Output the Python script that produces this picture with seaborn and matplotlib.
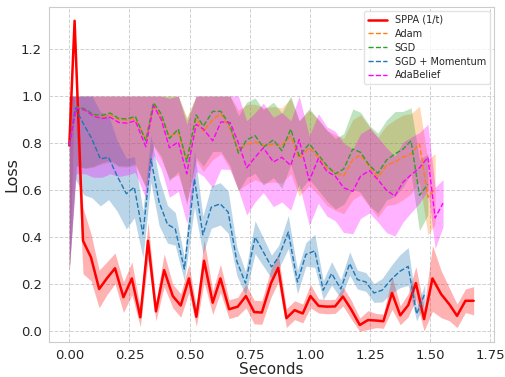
import numpy as np
import pandas as pd
import matplotlib
matplotlib.use("Agg")
import matplotlib.pyplot as plt
import seaborn as sns

# ---------------- data ----------------
sppa_t = [0, 0.022, 0.057, 0.09, 0.124, 0.156, 0.19, 0.225, 0.26, 0.295,
          0.327, 0.36, 0.394, 0.43, 0.463, 0.497, 0.528, 0.56, 0.596, 0.628,
          0.664, 0.70, 0.734, 0.768, 0.80, 0.838, 0.868, 0.902, 0.936, 0.97,
          1.002, 1.036, 1.07, 1.104, 1.137, 1.17, 1.207, 1.241, 1.275, 1.305,
          1.341, 1.375, 1.408, 1.44, 1.474, 1.509, 1.545, 1.579, 1.611, 1.646, 1.68]
sppa_mean = [0.79, 1.32, 0.385, 0.315, 0.18, 0.225, 0.268, 0.145, 0.225, 0.06,
             0.385, 0.085, 0.26, 0.15, 0.11, 0.225, 0.062, 0.30, 0.122, 0.225,
             0.094, 0.105, 0.15, 0.082, 0.08, 0.205, 0.27, 0.056, 0.09, 0.076,
             0.15, 0.108, 0.105, 0.106, 0.148, 0.095, 0.027, 0.048, 0.046, 0.043,
             0.163, 0.068, 0.111, 0.205, 0.052, 0.225, 0.158, 0.115, 0.066, 0.13, 0.13]
sppa_std = [0.53, 0.05, 0.14, 0.10, 0.08, 0.07, 0.065, 0.065, 0.07, 0.04,
            0.08, 0.04, 0.07, 0.05, 0.05, 0.06, 0.04, 0.09, 0.05, 0.06,
            0.04, 0.04, 0.05, 0.05, 0.05, 0.06, 0.06, 0.04, 0.04, 0.04,
            0.05, 0.03, 0.03, 0.03, 0.04, 0.04, 0.03, 0.04, 0.03, 0.03,
            0.07, 0.04, 0.05, 0.07, 0.05, 0.14, 0.10, 0.07, 0.05, 0.05, 0.06]

base_t = [0, 0.029, 0.066, 0.10, 0.136, 0.17, 0.205, 0.24, 0.274, 0.318,
          0.35, 0.382, 0.416, 0.453, 0.488, 0.527, 0.557, 0.596, 0.63, 0.668,
          0.703, 0.737, 0.772, 0.806, 0.848, 0.883, 0.92, 0.955, 0.997, 1.035,
          1.07, 1.105, 1.14, 1.178, 1.21, 1.247, 1.282, 1.318, 1.353, 1.387,
          1.42, 1.455, 1.49]

sgd_t = base_t
sgd_mean = [0.79, 0.955, 0.945, 0.922, 0.918, 0.928, 0.905, 0.903, 0.914, 0.81,
            0.972, 0.924, 0.82, 0.86, 0.72, 0.92, 0.872, 0.935, 0.935, 0.874,
            0.757, 0.814, 0.832, 0.782, 0.814, 0.768, 0.86, 0.745, 0.797, 0.75,
            0.705, 0.67, 0.69, 0.775, 0.761, 0.705, 0.672, 0.728, 0.754, 0.775,
            0.81, 0.578, 0.625]
sgd_std = [0.53, 0.25, 0.25, 0.22, 0.20, 0.20, 0.20, 0.20, 0.20, 0.20,
           0.18, 0.18, 0.18, 0.18, 0.18, 0.18, 0.17, 0.17, 0.17, 0.17,
           0.16, 0.16, 0.16, 0.16, 0.16, 0.16, 0.15, 0.15, 0.15, 0.15,
           0.15, 0.15, 0.15, 0.17, 0.17, 0.17, 0.17, 0.17, 0.18, 0.16,
           0.14, 0.15, 0.13]

adam_t = base_t + [1.52]
adam_mean = [0.79, 0.952, 0.942, 0.918, 0.912, 0.92, 0.9, 0.898, 0.905, 0.815,
             0.965, 0.91, 0.83, 0.845, 0.73, 0.905, 0.85, 0.9, 0.925, 0.86,
             0.77, 0.795, 0.805, 0.79, 0.795, 0.79, 0.83, 0.735, 0.78, 0.74,
             0.695, 0.675, 0.66, 0.73, 0.75, 0.7, 0.655, 0.705, 0.72, 0.74,
             0.755, 0.797, 0.57, 0.605]
adam_std = [0.53, 0.25, 0.25, 0.22, 0.20, 0.20, 0.20, 0.20, 0.20, 0.20,
            0.18, 0.18, 0.18, 0.18, 0.18, 0.18, 0.17, 0.17, 0.17, 0.17,
            0.17, 0.17, 0.16, 0.16, 0.16, 0.16, 0.16, 0.16, 0.16, 0.16,
            0.16, 0.16, 0.16, 0.17, 0.17, 0.17, 0.17, 0.17, 0.18, 0.18,
            0.17, 0.16, 0.16, 0.15]

adab_t = base_t + [1.52, 1.553]
adab_mean = [0.79, 0.95, 0.94, 0.915, 0.905, 0.91, 0.888, 0.885, 0.895, 0.785,
             0.96, 0.9, 0.78, 0.805, 0.67, 0.88, 0.86, 0.81, 0.89, 0.888,
             0.8, 0.695, 0.74, 0.78, 0.72, 0.74, 0.705, 0.815, 0.64, 0.735,
             0.68, 0.66, 0.61, 0.595, 0.66, 0.683, 0.645, 0.6, 0.575, 0.635,
             0.665, 0.695, 0.74, 0.482, 0.545]
adab_std = [0.53, 0.28, 0.27, 0.26, 0.25, 0.24, 0.23, 0.22, 0.22, 0.22,
            0.21, 0.21, 0.21, 0.21, 0.21, 0.20, 0.20, 0.20, 0.20, 0.20,
            0.20, 0.20, 0.19, 0.19, 0.19, 0.19, 0.19, 0.19, 0.19, 0.19,
            0.19, 0.19, 0.19, 0.18, 0.18, 0.18, 0.18, 0.18, 0.17, 0.17,
            0.16, 0.15, 0.14, 0.13, 0.10]

mom_t = [0, 0.025, 0.06, 0.094, 0.129, 0.163, 0.198, 0.237, 0.27, 0.306,
         0.339, 0.373, 0.408, 0.44, 0.478, 0.52, 0.555, 0.59, 0.627, 0.66,
         0.696, 0.732, 0.772, 0.806, 0.84, 0.87, 0.91, 0.948, 0.983, 1.02,
         1.055, 1.09, 1.128, 1.165, 1.197, 1.232, 1.266, 1.30, 1.339, 1.373,
         1.408, 1.443, 1.477]
mom_mean = [0.79, 0.948, 0.88, 0.818, 0.733, 0.74, 0.662, 0.585, 0.613, 0.413,
            0.733, 0.55, 0.455, 0.436, 0.265, 0.648, 0.41, 0.528, 0.542, 0.507,
            0.298, 0.205, 0.40, 0.338, 0.274, 0.316, 0.422, 0.21, 0.327, 0.342,
            0.175, 0.246, 0.18, 0.288, 0.22, 0.21, 0.163, 0.175, 0.222, 0.255,
            0.276, 0.074, 0.16]
mom_std = [0.53, 0.30, 0.30, 0.25, 0.20, 0.18, 0.15, 0.15, 0.13, 0.10,
           0.10, 0.10, 0.08, 0.07, 0.05, 0.12, 0.08, 0.09, 0.09, 0.09,
           0.06, 0.05, 0.07, 0.06, 0.05, 0.05, 0.07, 0.05, 0.05, 0.07,
           0.04, 0.05, 0.04, 0.05, 0.04, 0.04, 0.04, 0.05, 0.06, 0.07,
           0.08, 0.03, 0.04]

series = [
    ("SPPA (1/t)", sppa_t, sppa_mean, sppa_std, "red", "-", 1.8),
    ("Adam", adam_t, adam_mean, adam_std, "tab:orange", "--", 1.0),
    ("SGD", sgd_t, sgd_mean, sgd_std, "tab:green", "--", 1.0),
    ("SGD + Momentum", mom_t, mom_mean, mom_std, "tab:blue", "--", 1.0),
    ("AdaBelief", adab_t, adab_mean, adab_std, "magenta", "--", 1.0),
]

# ---------------- plot ----------------
sns.set_style("whitegrid", {"grid.linestyle": "--", "grid.color": "#d3d3d3",
                            "axes.edgecolor": "#cccccc"})
plt.rcParams["font.family"] = ["DejaVu Sans"]

fig = plt.figure(figsize=(5.06, 3.77), dpi=100)
ax = fig.add_axes([0.097, 0.093, 0.879, 0.888])

for name, t, m, s, col, ls, lw in series:
    t = np.asarray(t); m = np.asarray(m); s = np.asarray(s)
    lo = np.clip(m - s, 0, 1)
    hi = np.clip(m + s, 0, 1)
    ax.fill_between(t, lo, hi, color=col, alpha=0.3, linewidth=0)
    sns.lineplot(x=t, y=m, ax=ax, color=col, linestyle=ls, linewidth=lw,
                 label=name, sort=False, estimator=None)

ax.set_xlim(-0.084, 1.764)
ax.set_ylim(-0.045, 1.378)
ax.set_xticks([0, 0.25, 0.5, 0.75, 1.0, 1.25, 1.5, 1.75])
ax.set_yticks([0, 0.2, 0.4, 0.6, 0.8, 1.0, 1.2])
ax.tick_params(labelsize=9.5, pad=1.5)
ax.set_xlabel("Seconds", fontsize=11, labelpad=0)
ax.set_ylabel("Loss", fontsize=11.5, labelpad=1)
ax.grid(True, linestyle="--", linewidth=0.7, color="#d0d0d0")
for sp in ax.spines.values():
    sp.set_color("#cccccc")

leg = ax.legend(loc="upper right", fontsize=7, frameon=True,
                borderaxespad=0.4, handlelength=2.0, labelspacing=0.4)
leg.get_frame().set_edgecolor("#dddddd")

fig.savefig("out.png", dpi=100)
